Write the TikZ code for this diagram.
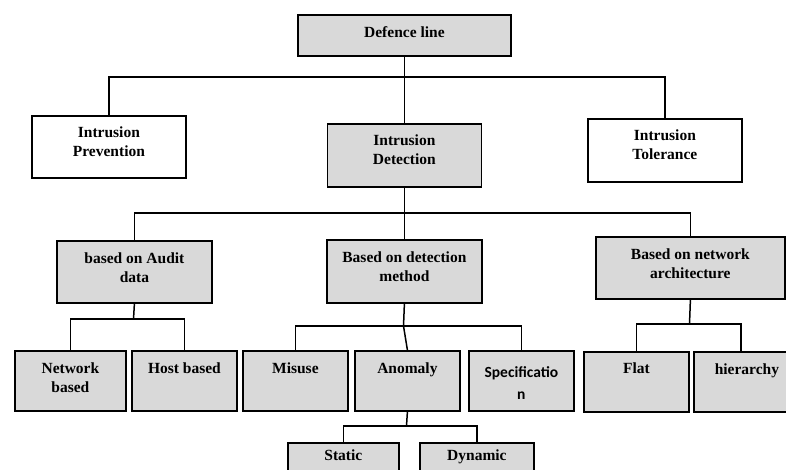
\documentclass[tikz,border=0pt]{standalone}
\usepackage{fontspec}
\setmainfont{Liberation Serif}
\newfontfamily\calibri{Carlito}
\usetikzlibrary{positioning}
\definecolor{boxgrey}{HTML}{D9D9D9}
\begin{document}
\begin{tikzpicture}[x=1pt,y=-1pt,
  box/.style={draw,line width=1.8pt,anchor=north west,inner sep=0pt},
  grey/.style={box,fill=boxgrey},
  lbl/.style={inner sep=0pt,align=center,font=\fontsize{15.5}{19}\selectfont\bfseries},
  conn/.style={line width=1.5pt}]
  \useasboundingbox (0,0) rectangle (786,470);
  \clip (0,0) rectangle (786,470);

  \node[grey,minimum width=213pt,minimum height=41pt] (dl) at (297,14) {};
  \node[box,minimum width=154pt,minimum height=62pt] (ip) at (31,115) {};
  \node[grey,minimum width=154pt,minimum height=63pt] (id) at (326.5,123) {};
  \node[box,minimum width=154pt,minimum height=63pt] (it) at (587,118) {};
  \node[lbl,below=12pt of dl.north] (dlt) {Defence line};
  \node[lbl,below=12pt of ip.north] (ipt) {Intrusion\\Prevention};
  \node[lbl,below=12pt of id.north] (idt) {Intrusion\\Detection};
  \node[lbl,below=12pt of it.north] (itt) {Intrusion\\Tolerance};

  \node[grey,minimum width=155pt,minimum height=62pt] (ad) at (56,240) {};
  \node[grey,minimum width=155pt,minimum height=63pt] (dm) at (326,239) {};
  \node[grey,minimum width=189pt,minimum height=62pt] (na) at (595,236) {};
  \node[lbl,below=13pt of ad.north] (adt) {based on Audit\\data};
  \node[lbl,below=13pt of dm.north] (dmt) {Based on detection\\method};
  \node[lbl,below=13pt of na.north] (nat) {Based on network\\architecture};

  \node[grey,minimum width=111pt,minimum height=60pt] (nb) at (14,350) {};
  \node[grey,minimum width=105pt,minimum height=60pt] (hb) at (131,350) {};
  \node[grey,minimum width=105pt,minimum height=60pt] (mu) at (242,350) {};
  \node[grey,minimum width=105pt,minimum height=60pt] (an) at (354,350) {};
  \node[grey,minimum width=105pt,minimum height=60pt] (sp) at (468,350) {};
  \node[grey,minimum width=105pt,minimum height=60pt] (fl) at (583,351) {};
  \node[grey,minimum width=106pt,minimum height=60pt] (hi) at (693,351) {};
  \node[lbl,below=13pt of nb.north] (nbt) {Network\\based};
  \node[lbl,below=13pt of hb.north] (hbt) {Host based};
  \node[lbl,below=13pt of mu.north] (mut) {Misuse};
  \node[lbl,below=13pt of an.north] (ant) {Anomaly};
  \node[lbl,below=16pt of sp.north,font=\fontsize{15.5}{22}\selectfont\calibri\bfseries] (spt) {Specificatio\\n};
  \node[lbl,below=12pt of fl.north] (flt) {Flat};
  \node[lbl,below=13pt of hi.north] (hit) {hierarchy};

  \node[grey,minimum width=111pt,minimum height=60pt] (st) at (287,442) {};
  \node[grey,minimum width=114pt,minimum height=60pt] (dy) at (419,442) {};
  \node[lbl,below=8pt of st.north] (stt) {Static};
  \node[lbl,below=8pt of dy.north] (dyt) {Dynamic};

  \coordinate (b1) at (403.5,77);
  \coordinate (b2) at (403.5,213);
  \coordinate (b3) at (133.5,319);
  \coordinate (b4) at (403.5,326);
  \coordinate (b5) at (689.5,324);
  \coordinate (b6) at (406.5,426);
  \draw[conn] (dl.south) -- (id.north);
  \draw[conn] (ip.north) |- (b1) -| (it.north);
  \draw[conn] (id.south) -- (dm.north);
  \draw[conn] (ad.north) |- (b2) -| (na.north);
  \draw[conn] (ad.south) -- (b3);
  \draw[conn] (nb.north) |- (b3) -| (hb.north);
  \draw[conn] (dm.south) -- (b4) -- (an.north);
  \draw[conn] (mu.north) |- (b4) -| (sp.north);
  \draw[conn] (na.south) -- (b5);
  \draw[conn] (fl.north) |- (b5) -| ([xshift=-6pt]hi.north);
  \draw[conn] (an.south) -- (b6);
  \draw[conn] (st.north) |- (b6) -| (dy.north);
\end{tikzpicture}
\end{document}
